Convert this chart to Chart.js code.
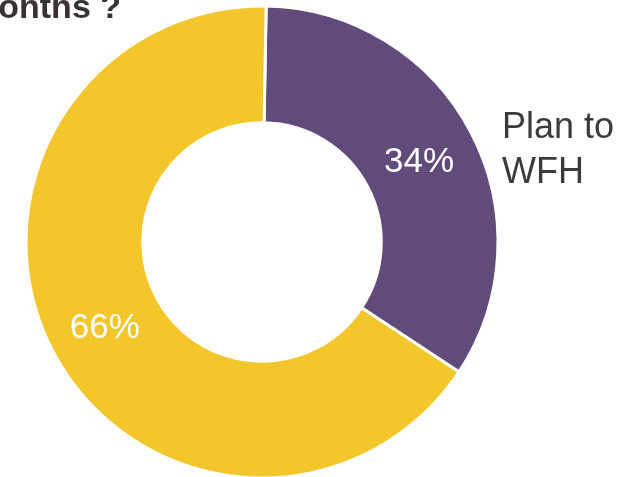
<!DOCTYPE html>
<html>
<head>
<meta charset="utf-8">
<script src="https://cdn.jsdelivr.net/npm/chart.js@4"></script>
<style>
  html, body { margin: 0; padding: 0; background: #fff; }
  #wrap { width: 631px; height: 477px; position: relative; }
</style>
</head>
<body>
<div id="wrap"><canvas id="chart"></canvas></div>
<script>
// data
const labels = ["Plan to WFH", "Do not plan to WFH"];
const values = [34, 66];
const colors = ["#604b7a", "#f3c62c"];
const titleText = "in the next 12 months ?";
const sideLabel = ["Plan to", "WFH"];

// percent labels inside arcs + side label + cropped title
const drawText = {
  id: "drawText",
  afterDatasetsDraw(chart) {
    const ctx = chart.ctx;
    const arcs = chart.getDatasetMeta(0).data;
    const total = values.reduce((a, b) => a + b, 0);

    ctx.save();
    ctx.fillStyle = "#ffffff";
    ctx.font = "35px 'Liberation Sans', Arial, sans-serif";
    ctx.textAlign = "center";
    ctx.textBaseline = "middle";
    arcs.forEach((arc, i) => {
      const p = arc.getCenterPoint();
      ctx.fillText(Math.round(values[i] / total * 100) + "%", p.x, p.y + 3);
    });

    // label to the right of the purple slice
    const a0 = arcs[0];
    ctx.fillStyle = "#3e393f";
    ctx.font = "36px 'Liberation Sans', Arial, sans-serif";
    ctx.textAlign = "left";
    ctx.textBaseline = "alphabetic";
    ctx.fillText(sideLabel[0], a0.x + a0.outerRadius + 4, a0.y - 104);
    ctx.fillText(sideLabel[1], a0.x + a0.outerRadius + 4, a0.y - 59);

    // title, cut off at the top left like the source
    ctx.fillStyle = "#3a3137";
    ctx.font = "bold 34px 'Liberation Sans', Arial, sans-serif";
    ctx.textAlign = "right";
    ctx.fillText(titleText, 121, 18);
    ctx.restore();
  }
};

new Chart(document.getElementById("chart"), {
  type: "doughnut",
  data: {
    labels: labels,
    datasets: [{
      data: values,
      backgroundColor: colors,
      borderColor: "#ffffff",
      borderWidth: 3
    }]
  },
  options: {
    responsive: true,
    maintainAspectRatio: false,
    animation: false,
    rotation: 1,
    radius: 236,
    cutout: 118,
    layout: { padding: { left: 0, right: 107, top: 7, bottom: 0 } },
    plugins: {
      legend: { display: false },
      tooltip: { enabled: false },
      title: { display: false }
    }
  },
  plugins: [drawText]
});
</script>
</body>
</html>
